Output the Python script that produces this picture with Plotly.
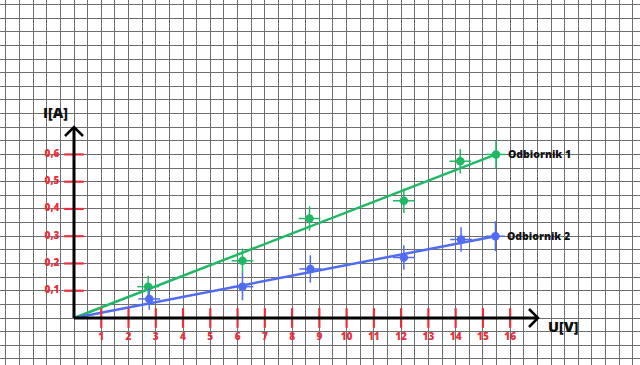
import plotly.graph_objects as go

# Data
u1 = [2.72, 6.18, 8.64, 12.1, 14.17, 15.48]
i1 = [0.115, 0.21, 0.365, 0.43, 0.575, 0.60]
u2 = [2.76, 6.18, 8.67, 12.1, 14.2, 15.46]
i2 = [0.07, 0.115, 0.18, 0.222, 0.288, 0.30]
err_u = [0.4, 0.4, 0.4, 0.4, 0.4, 0.35]
err_i1 = [0.04, 0.045, 0.045, 0.045, 0.045, 0.05]
err_i2 = [0.04, 0.05, 0.05, 0.045, 0.045, 0.055]
x_ticks = list(range(1, 17))
y_ticks = [0.1, 0.2, 0.3, 0.4, 0.5, 0.6]
y_tick_labels = ["0,1", "0,2", "0,3", "0,4", "0,5", "0,6"]
series_names = ["Odbiornik 1", "Odbiornik 2"]

GREEN = "#1fb864"
BLUE = "#4f6cf2"
RED = "#ea2f3a"
FONT = "Open Sans"

W, H = 640, 365
ox, oy = 74.0, 318.0
ppu_x = 27.26   # px per volt
ppu_y = 272.6   # px per amp
x_range = [-ox / ppu_x, (W - ox) / ppu_x]
y_range = [-(H - oy) / ppu_y, oy / ppu_y]

fig = go.Figure()

# fit lines from origin to last point
fig.add_trace(go.Scatter(x=[0, u1[-1]], y=[0, i1[-1]], mode="lines",
                         line=dict(color=GREEN, width=2.5), hoverinfo="skip", showlegend=False))
fig.add_trace(go.Scatter(x=[0, u2[-1]], y=[0, i2[-1]], mode="lines",
                         line=dict(color=BLUE, width=2.5), hoverinfo="skip", showlegend=False))

for u, i, ei, col, name in [(u1, i1, err_i1, GREEN, series_names[0]),
                            (u2, i2, err_i2, BLUE, series_names[1])]:
    fig.add_trace(go.Scatter(
        x=u, y=i, mode="markers", name=name, showlegend=False,
        marker=dict(color=col, size=8.5),
        error_x=dict(type="data", array=err_u, color=col, thickness=1.5, width=0),
        error_y=dict(type="data", array=ei, color=col, thickness=1.5, width=0),
    ))
    fig.add_annotation(x=u[-1], y=i[-1], text=name, showarrow=False,
                       xanchor="left", yanchor="middle", xshift=10,
                       font=dict(family=FONT, size=10.5, color="#111", weight=800))

# axes lines with arrows
x_end = (538 - ox) / ppu_x
y_end = (oy - 127) / ppu_y
ax_dx = 9 / ppu_x
ax_dy = 9 / ppu_y
fig.add_shape(type="line", x0=0, y0=0, x1=x_end, y1=0, line=dict(color="black", width=3))
fig.add_shape(type="line", x0=0, y0=0, x1=0, y1=y_end, line=dict(color="black", width=3))
fig.add_shape(type="path",
              path=f"M {-ax_dx} {y_end-ax_dy} L 0 {y_end} L {ax_dx} {y_end-ax_dy}",
              line=dict(color="black", width=2.5))
fig.add_shape(type="path",
              path=f"M {x_end-ax_dx} {ax_dy} L {x_end} 0 L {x_end-ax_dx} {-ax_dy}",
              line=dict(color="black", width=2.5))

# red tick marks
fig.add_trace(go.Scatter(x=x_ticks, y=[0] * len(x_ticks), mode="markers",
                         marker=dict(symbol="line-ns", size=14, line=dict(color=RED, width=2.2)),
                         hoverinfo="skip", showlegend=False))
fig.add_trace(go.Scatter(x=[0] * len(y_ticks), y=y_ticks, mode="markers",
                         marker=dict(symbol="line-ew", size=14, line=dict(color=RED, width=2.2)),
                         hoverinfo="skip", showlegend=False))
# tick labels
fig.add_trace(go.Scatter(x=x_ticks, y=[-19 / ppu_y] * len(x_ticks), mode="text",
                         text=[str(t) for t in x_ticks],
                         textfont=dict(family=FONT, size=10, color=RED, weight=800),
                         hoverinfo="skip", showlegend=False))
fig.add_trace(go.Scatter(x=[-22 / ppu_x] * len(y_ticks), y=y_ticks, mode="text",
                         text=y_tick_labels,
                         textfont=dict(family=FONT, size=10, color=RED, weight=800),
                         hoverinfo="skip", showlegend=False))

# axis titles
fig.add_annotation(x=(55 - ox) / ppu_x, y=(oy - 112) / ppu_y, text="I[A]", showarrow=False,
                   font=dict(family=FONT, size=14.5, color="#111", weight=800))
fig.add_annotation(x=(563 - ox) / ppu_x, y=(oy - 326) / ppu_y, text="U[V]", showarrow=False,
                   font=dict(family=FONT, size=14.5, color="#111", weight=800))

fig.update_xaxes(range=x_range, showgrid=True, gridcolor="#6e6e6e", gridwidth=1.4,
                 tick0=0, dtick=0.5, showticklabels=False, zeroline=False, showline=False,
                 fixedrange=True)
fig.update_yaxes(range=y_range, showgrid=True, gridcolor="#6e6e6e", gridwidth=1.4,
                 tick0=0, dtick=0.05, showticklabels=False, zeroline=False, showline=False,
                 fixedrange=True)
fig.update_layout(width=W, height=H, margin=dict(l=0, r=0, t=0, b=0),
                  paper_bgcolor="white", plot_bgcolor="white", showlegend=False)

fig.write_html("out.html", config={"displayModeBar": False})
